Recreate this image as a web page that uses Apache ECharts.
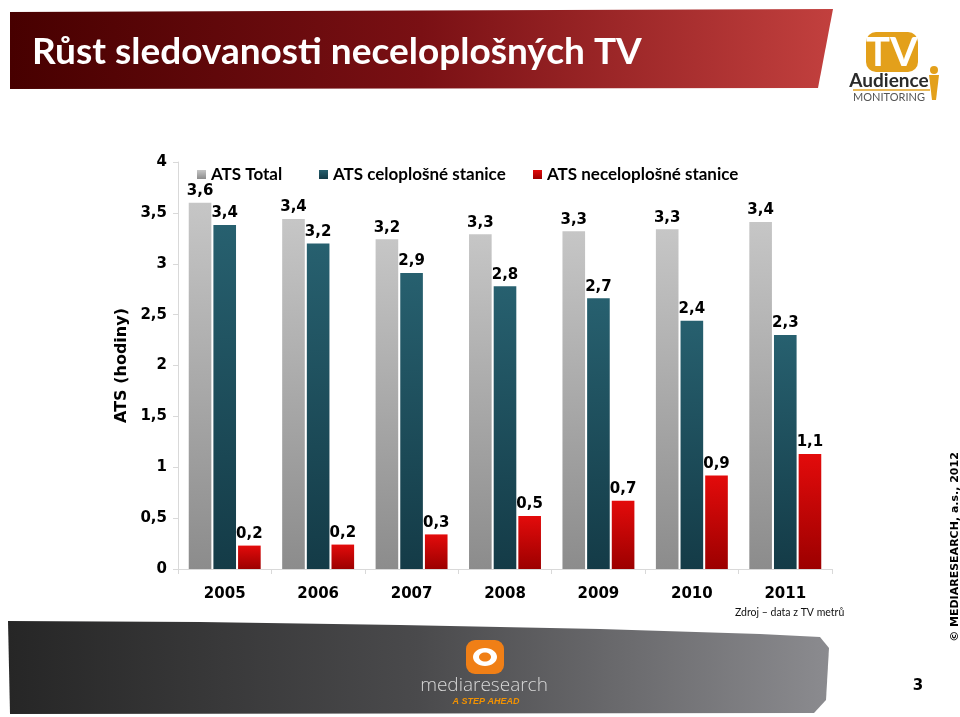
<!DOCTYPE html>
<html><head><meta charset="utf-8">
<script src="https://cdn.jsdelivr.net/npm/echarts@6/dist/echarts.min.js"></script>
<style>html,body{margin:0;padding:0;background:#fff}#c{width:960px;height:717px}</style>
</head><body><div id="c"></div>
<script>
var categories = ['2005','2006','2007','2008','2009','2010','2011'];
var atsTotal = [3.60, 3.44, 3.24, 3.29, 3.32, 3.34, 3.41];
var atsCelo = [3.38, 3.20, 2.91, 2.78, 2.66, 2.44, 2.30];
var atsNece = [0.23, 0.24, 0.34, 0.52, 0.67, 0.92, 1.13];
var seriesNames = ['ATS Total', 'ATS celoplošné stanice', 'ATS neceloplošné stanice'];
var yTicks = ['0','0,5','1','1,5','2','2,5','3','3,5','4'];

var VF = 'DejaVu Sans';
function grad(a, b) {
  return new echarts.graphic.LinearGradient(0, 0, 0, 1, [{offset: 0, color: a}, {offset: 1, color: b}]);
}
function fmt(p) { return p.value.toFixed(1).replace('.', ','); }
var labelStyle = {show: true, position: 'top', distance: 4, formatter: fmt,
  fontFamily: VF, fontWeight: 'bold', fontSize: 15, color: '#000'};

var chart = echarts.init(document.getElementById('c'), null, {renderer: 'canvas'});
var legendText = {fontFamily: 'Lato', fontWeight: 'bold', fontSize: 17, color: '#000'};
function lg(name, left) {
  return {data: [name], left: left, top: 166, padding: 0, itemWidth: 9, itemHeight: 9, icon: 'rect',
    itemGap: 4, textStyle: legendText, selectedMode: false};
}
var option = {
  backgroundColor: '#fff',
  animation: false,
  title: {text: 'Růst sledovanosti neceloplošných TV', left: 27, top: 29,
    textStyle: {color: '#fff', fontFamily: 'Lato', fontWeight: 'bold', fontSize: 37}},
  legend: [lg(seriesNames[0], 197), lg(seriesNames[1], 319), lg(seriesNames[2], 533)],
  grid: {left: 178, right: 128, top: 162, bottom: 148, containLabel: false},
  xAxis: {type: 'category', data: categories,
    axisLine: {show: true, lineStyle: {color: '#d9d9d9', width: 1}},
    axisTick: {show: true, length: 5, lineStyle: {color: '#d9d9d9'}},
    axisLabel: {margin: 18, fontFamily: VF, fontWeight: 'bold', fontSize: 15, color: '#000'}},
  yAxis: {type: 'value', min: 0, max: 4, interval: 0.5,
    name: 'ATS (hodiny)', nameLocation: 'middle', nameRotate: 90, nameGap: 47,
    nameTextStyle: {fontFamily: VF, fontWeight: 'bold', fontSize: 16, color: '#000'},
    axisLine: {show: true, lineStyle: {color: '#d9d9d9', width: 1}},
    axisTick: {show: true, length: 5, lineStyle: {color: '#d9d9d9'}},
    splitLine: {show: false},
    axisLabel: {margin: 11, fontFamily: VF, fontWeight: 'bold', fontSize: 15, color: '#000',
      formatter: function (v) { return yTicks[Math.round(v * 2)]; }}},
  series: [
    {name: seriesNames[0], type: 'bar', data: atsTotal, barCategoryGap: '23%', barGap: '9%',
      itemStyle: {color: grad('#c6c6c6', '#8c8c8c')}, label: labelStyle},
    {name: seriesNames[1], type: 'bar', data: atsCelo, barGap: '9%',
      itemStyle: {color: grad('#27606f', '#143b47')}, label: labelStyle},
    {name: seriesNames[2], type: 'bar', data: atsNece, barGap: '9%',
      itemStyle: {color: grad('#e30b0b', '#9c0000')}, label: labelStyle}
  ],
  graphic: [
    {type: 'polygon', z: -1, shape: {points: [[10, 12], [833, 9], [818, 88], [10, 89]]},
      style: {fill: new echarts.graphic.LinearGradient(0, 0, 1, 0, [
        {offset: 0, color: '#470000'}, {offset: 0.5, color: '#7a1014'}, {offset: 1, color: '#c2403e'}])}},
    // TV logo
    {type: 'rect', shape: {x: 866, y: 32, width: 52, height: 40, r: 10}, style: {fill: '#e3a01b'}},
    {type: 'text', style: {text: 'TV', x: 892, y: 53, align: 'center', verticalAlign: 'middle',
      fontFamily: 'Liberation Sans Narrow, Lato', fontWeight: 'bold', fontSize: 40, fill: '#fff'}},
    {type: 'text', style: {text: 'Audience', x: 889, y: 81, align: 'center', verticalAlign: 'middle',
      fontFamily: 'Liberation Sans Narrow, Lato', fontWeight: 'bold', fontSize: 19, fill: '#2a2a2a'}},
    {type: 'line', shape: {x1: 853, y1: 90, x2: 930, y2: 90}, style: {stroke: '#e3a01b', lineWidth: 1.5}},
    {type: 'text', style: {text: 'MONITORING', x: 889, y: 97, align: 'center', verticalAlign: 'middle',
      fontFamily: 'Liberation Sans Narrow, Lato', fontSize: 11, fill: '#555'}},
    {type: 'circle', shape: {cx: 934, cy: 70, r: 4}, style: {fill: '#e3a01b'}},
    {type: 'polygon', shape: {points: [[929, 75], [939, 75], [936, 100], [932, 100]]}, style: {fill: '#e3a01b'}},
    // bottom banner
    {type: 'polygon', z: -1, shape: {points: [[8, 621], [200, 622], [400, 625], [600, 629], [760, 634], [820, 637], [829, 648], [826, 700], [814, 713], [10, 714]]},
      style: {fill: new echarts.graphic.LinearGradient(0, 0, 1, 0, [
        {offset: 0, color: '#262626'}, {offset: 0.5, color: '#4a4a4c'}, {offset: 1, color: '#8b8b8f'}])}},
    {type: 'rect', shape: {x: 466, y: 640, width: 38, height: 34, r: 9}, style: {fill: '#f07f16'}},
    {type: 'ellipse', shape: {cx: 485, cy: 657, rx: 12, ry: 9}, style: {fill: '#fff'}},
    {type: 'ellipse', shape: {cx: 485, cy: 657, rx: 6, ry: 4.5}, style: {fill: '#f07f16'}},
    {type: 'text', style: {text: 'mediaresearch', x: 484, y: 686, align: 'center', verticalAlign: 'middle',
      fontFamily: 'Open Sans', fontWeight: 300, fontSize: 19, fill: '#d8d8d8'}},
    {type: 'text', style: {text: 'A STEP AHEAD', x: 486, y: 702, align: 'center', verticalAlign: 'middle',
      fontFamily: 'Liberation Sans', fontStyle: 'italic', fontWeight: 'bold', fontSize: 9, fill: '#f39200'}},
    // notes
    {type: 'text', style: {text: 'Zdroj – data z TV metrů', x: 735, y: 613, verticalAlign: 'middle',
      fontFamily: 'Liberation Sans Narrow, Lato', fontSize: 10.5, fill: '#111'}},
    {type: 'text', style: {text: '3', x: 918, y: 686, align: 'center', verticalAlign: 'middle',
      fontFamily: VF, fontWeight: 'bold', fontSize: 15, fill: '#000'}},
    {type: 'text', x: 955, y: 547, rotation: Math.PI / 2,
      style: {text: '© MEDIARESEARCH, a.s., 2012', x: 0, y: 0, align: 'center', verticalAlign: 'middle',
        fontFamily: VF, fontWeight: 'bold', fontSize: 11, fill: '#000'}}
  ]
};
chart.setOption(option);
</script></body></html>
